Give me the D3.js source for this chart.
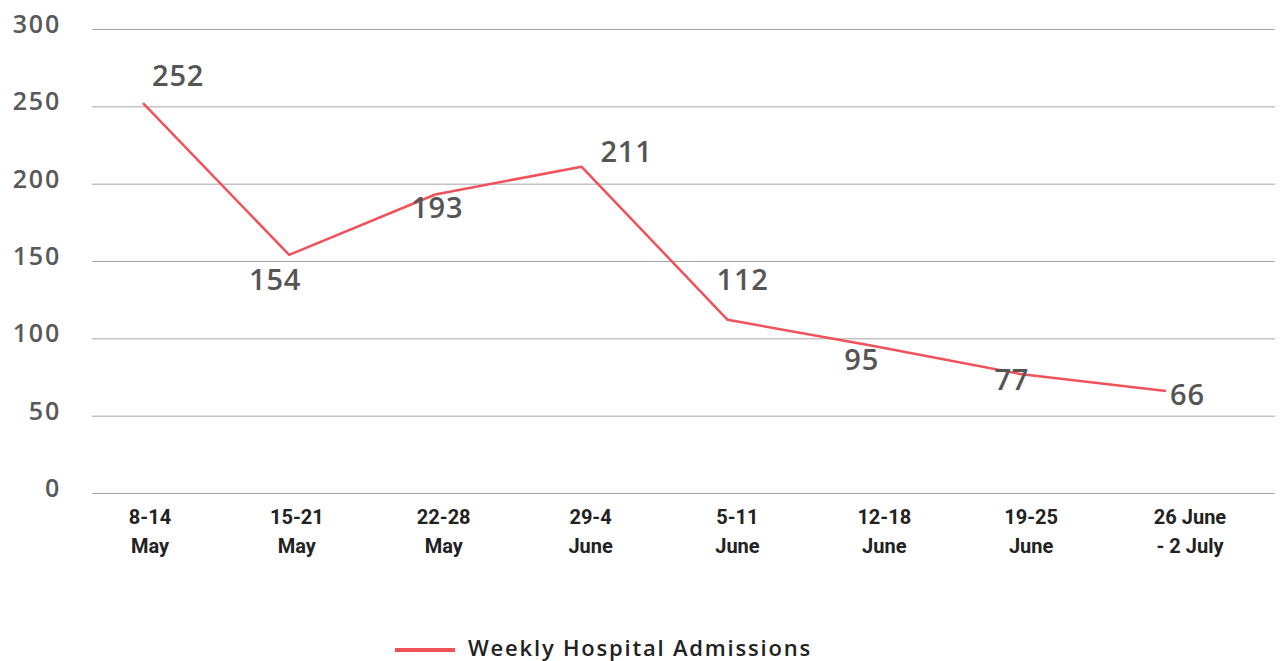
<!DOCTYPE html>
<html>
<head>
<meta charset="utf-8">
<script src="https://cdnjs.cloudflare.com/ajax/libs/d3/7.8.5/d3.min.js"></script>
<style>
  body { margin: 0; background: #fff; }
</style>
</head>
<body>
<script>
// data
const weeks = [
  ["8-14", "May"], ["15-21", "May"], ["22-28", "May"], ["29-4", "June"],
  ["5-11", "June"], ["12-18", "June"], ["19-25", "June"], ["26 June", "- 2 July"]
];
const admissions = [252, 154, 193, 211, 112, 95, 77, 66];
const yTicks = [0, 50, 100, 150, 200, 250, 300];
const seriesName = "Weekly Hospital Admissions";

let width = 1280, height = 661;
let svg = d3.select("body").append("svg")
  .attr("width", width)
  .attr("height", height)
  .style("display", "block");

// line points and axis labels sit on slightly different grids in the original
let x = d3.scalePoint()
  .domain(d3.range(weeks.length))
  .range([143, 1166]);

let xLabel = d3.scalePoint()
  .domain(d3.range(weeks.length))
  .range([150, 1178]);

let y = d3.scaleLinear()
  .domain([0, 300])
  .range([493, 29]);

// grid lines
svg.append("g")
  .selectAll("line")
  .data(yTicks)
  .enter()
  .append("line")
    .attr("x1", 92)
    .attr("x2", 1275)
    .attr("y1", d => y(d) + 0.5)
    .attr("y2", d => y(d) + 0.5)
    .attr("stroke", "#a6a6a6")
    .attr("stroke-width", 1)

// y labels
svg.append("g")
  .selectAll("text")
  .data(yTicks)
  .enter()
  .append("text")
    .attr("x", 61)
    .attr("y", d => y(d) + 4)
    .attr("text-anchor", "end")
    .attr("font-family", "Open Sans")
    .attr("font-weight", 600)
    .attr("font-size", 25)
    .attr("letter-spacing", 1.8)
    .attr("fill", "#595959")
    .text(d => d)

// x labels
let xl = svg.append("g")
  .selectAll("text")
  .data(weeks)
  .enter()
  .append("text")
    .attr("text-anchor", "middle")
    .attr("font-family", "Roboto")
    .attr("font-weight", 700)
    .attr("font-size", 20)
    .attr("fill", "#222")

xl.append("tspan")
  .attr("x", (d, i) => i == weeks.length - 1 ? xLabel(i) + 12 : xLabel(i))
  .attr("y", 524)
  .text(d => d[0])
xl.append("tspan")
  .attr("x", (d, i) => i == weeks.length - 1 ? xLabel(i) + 12 : xLabel(i))
  .attr("y", 553)
  .text(d => d[1])

// line
let line = d3.line()
  .x((d, i) => x(i))
  .y(d => y(d))

svg.append("path")
  .datum(admissions)
  .attr("d", line)
  .attr("fill", "none")
  .attr("stroke", "#f0525a")
  .attr("stroke-width", 2.5)
  .attr("stroke-linejoin", "round")

// value labels, placement tweaks per point
const labelOffset = [
  [9, -17, "start"], [-14, 35, "middle"], [2, 24, "middle"], [19, -5, "start"],
  [-11, -30, "start"], [-12, 24, "middle"], [-8, 16, "middle"], [4, 14, "start"]
];

svg.append("g")
  .selectAll("text")
  .data(admissions)
  .enter()
  .append("text")
    .attr("x", (d, i) => x(i) + labelOffset[i][0])
    .attr("y", (d, i) => y(d) + labelOffset[i][1])
    .attr("text-anchor", (d, i) => labelOffset[i][2])
    .attr("font-family", "Open Sans")
    .attr("font-weight", 600)
    .attr("font-size", 29)
    .attr("letter-spacing", 0.8)
    .attr("fill", "#555")
    .text(d => d)

// legend
let legend = svg.append("g")
legend.append("line")
  .attr("x1", 395)
  .attr("x2", 455)
  .attr("y1", 650)
  .attr("y2", 650)
  .attr("stroke", "#f0525a")
  .attr("stroke-width", 4)
legend.append("text")
  .attr("x", 468)
  .attr("y", 656)
  .attr("font-family", "Open Sans")
  .attr("font-weight", 600)
  .attr("font-size", 22)
  .attr("letter-spacing", 1.8)
  .attr("fill", "#222")
  .text(seriesName)
</script>
</body>
</html>
